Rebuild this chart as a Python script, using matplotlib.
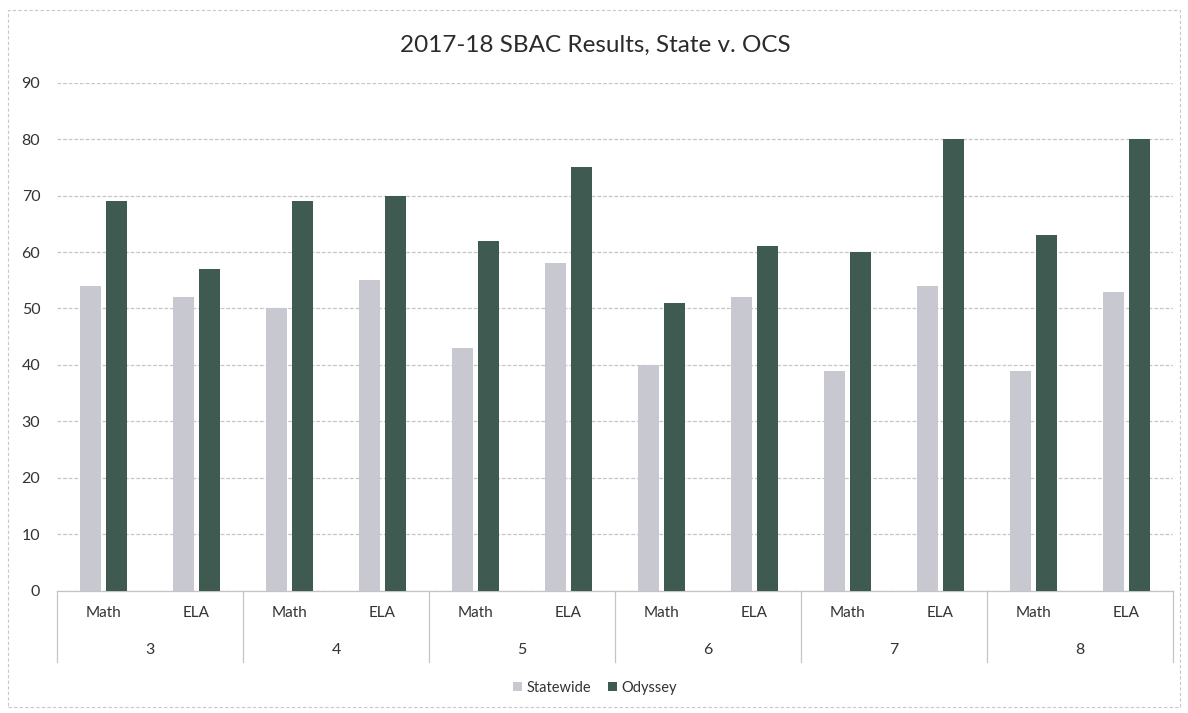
import matplotlib
matplotlib.use("Agg")
import matplotlib.pyplot as plt
import matplotlib.transforms as mtransforms
from matplotlib.patches import Rectangle
import numpy as np

plt.rcParams['font.family'] = ['Lato', 'DejaVu Sans']

title = "2017-18 SBAC Results, State v. OCS"
grades = ["3", "4", "5", "6", "7", "8"]
subjects = ["Math", "ELA"]
statewide = [54, 52, 50, 55, 43, 58, 40, 52, 39, 54, 39, 53]
odyssey = [69, 57, 69, 70, 62, 75, 51, 61, 60, 80, 63, 80]
series_names = ["Statewide", "Odyssey"]
colors = ["#c8c9d0", "#3e5a51"]
yticks = [0, 10, 20, 30, 40, 50, 60, 70, 80, 90]

W, H = 1188, 713
fig = plt.figure(figsize=(W / 100, H / 100), dpi=100)
ax = fig.add_axes([57 / W, 1 - 590.7 / H, (1173 - 57) / W, (590.7 - 82.7) / H])

n = len(grades) * len(subjects)
x = np.arange(n)
bw = 0.235
off = 0.14
ax.bar(x - off, statewide, width=bw, color=colors[0], label=series_names[0], zorder=3)
ax.bar(x + off, odyssey, width=bw, color=colors[1], label=series_names[1], zorder=3)

ax.set_xlim(-0.5, n - 0.5)
ax.set_ylim(0, 90)
ax.set_yticks(yticks)
ax.yaxis.grid(True, color="#c6c6c6", linewidth=0.9, linestyle=(0, (3, 1.5)), zorder=0)
ax.set_axisbelow(True)
for s in ["top", "right", "left"]:
    ax.spines[s].set_visible(False)
ax.spines["bottom"].set_color("#c4c4c4")
ax.spines["bottom"].set_linewidth(0.9)
ax.tick_params(axis="y", length=0, labelsize=11.5, labelcolor="#333333", pad=12)
ax.tick_params(axis="x", length=0, labelsize=11, labelcolor="#333333", pad=11)
ax.set_xticks(x)
ax.set_xticklabels(subjects * len(grades))

trans = mtransforms.blended_transform_factory(ax.transData, ax.transAxes)
ypx = 590.7 - 82.7
for gi, g in enumerate(grades):
    cx = gi * len(subjects) + (len(subjects) - 1) / 2
    ax.text(cx, -(650 - 590.7) / ypx, g, transform=trans, ha="center", va="center",
            fontsize=11.5, color="#333333")
for k in range(len(grades) + 1):
    xd = k * len(subjects) - 0.5
    ax.plot([xd, xd], [0, -(662 - 590.7) / ypx], transform=trans, color="#c4c4c4",
            linewidth=0.9, clip_on=False)

fig.text(595 / W, 1 - 45 / H, title, ha="center", va="center", fontsize=17.5, color="#2b2b2b")

leg = fig.legend(loc="center", bbox_to_anchor=(595 / W, 1 - 688 / H), ncol=2, frameon=False,
                 fontsize=10.5, handlelength=0.6, handleheight=0.6, handletextpad=0.3,
                 columnspacing=1.2, labelcolor="#333333")

fig.patches.append(Rectangle((8 / W, 6 / H), 1172 / W, 697 / H, transform=fig.transFigure,
                             fill=False, edgecolor="#c8c8c8", linewidth=0.8,
                             linestyle=(0, (3, 2))))

fig.savefig("out.png", dpi=100, facecolor="white")
